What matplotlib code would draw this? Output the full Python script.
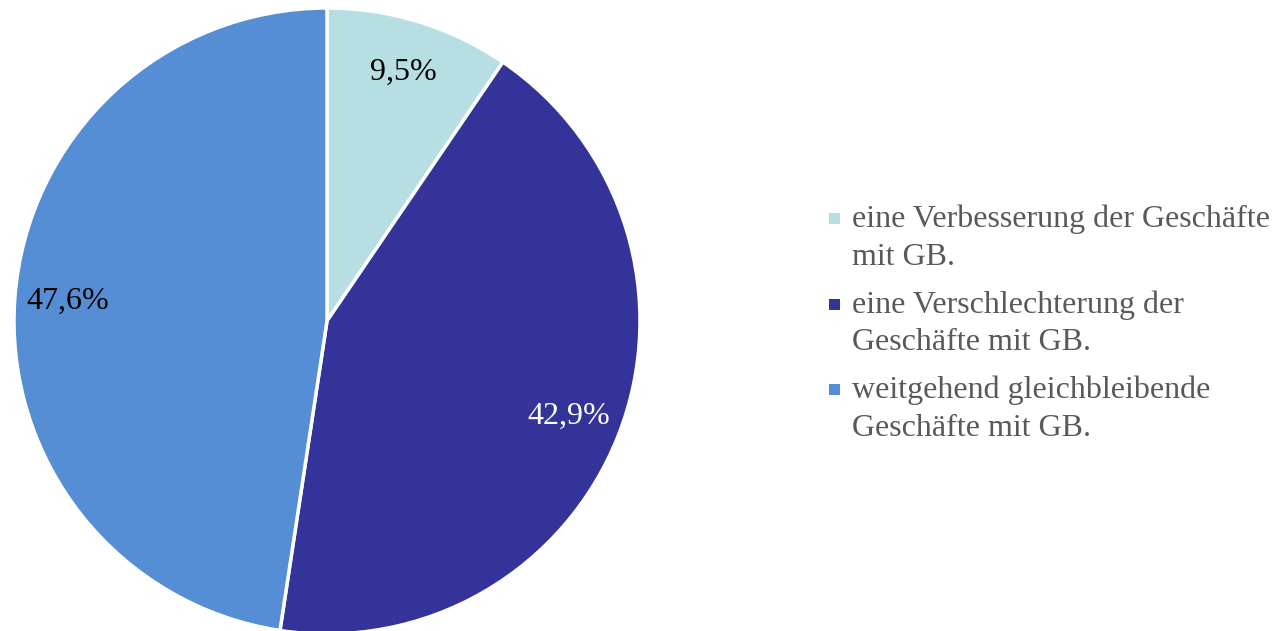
import matplotlib.pyplot as plt
from matplotlib.patches import Rectangle

# ---Data
labels = ['eine Verbesserung der Geschäfte\nmit GB.',
          'eine Verschlechterung der\nGeschäfte mit GB.',
          'weitgehend gleichbleibende\nGeschäfte mit GB.']
values = [9.5, 42.9, 47.6]
colors = ['#B7DFE3', '#333399', '#558ED5']
pct_colors = ['black', 'white', 'black']

plt.rcParams['font.family'] = ['Liberation Serif', 'DejaVu Serif']

W, H = 1274, 631
fig = plt.figure(figsize=(W / 100, H / 100), dpi=100)

# ---Pie (center ~ (327, 321) px, radius ~313 px)
cx, cy, r = 327, 321, 313
ax = fig.add_axes([(cx - r) / W, (H - cy - r) / H, 2 * r / W, 2 * r / H])
wedges, texts, autotexts = ax.pie(
    values, colors=colors, startangle=90, counterclock=False,
    autopct=lambda p: ('%.1f%%' % p).replace('.', ','),
    pctdistance=0.83, radius=1.0,
    wedgeprops=dict(edgecolor='white', linewidth=2.5),
    textprops=dict(fontsize=23))
for t, c in zip(autotexts, pct_colors):
    t.set_color(c)
ax.set_xlim(-1, 1)
ax.set_ylim(-1, 1)
ax.set_aspect('equal')
ax.axis('off')

# ---Legend (manual, marker aligned to first line)
x_box, x_txt = 829, 852
base0, line_gap, item_gap = 227, 38, 85.5
for i, (lab, col) in enumerate(zip(labels, colors)):
    b = base0 + i * item_gap
    fig.add_artist(Rectangle((x_box / W, 1 - (b - 3) / H), 11 / W, 11 / H,
                             transform=fig.transFigure, facecolor=col,
                             edgecolor='none'))
    for j, line in enumerate(lab.split('\n')):
        fig.text(x_txt / W, 1 - (b + j * line_gap) / H, line, fontsize=23,
                 color='#595959', ha='left', va='baseline')

plt.savefig('out.png', dpi=100)
